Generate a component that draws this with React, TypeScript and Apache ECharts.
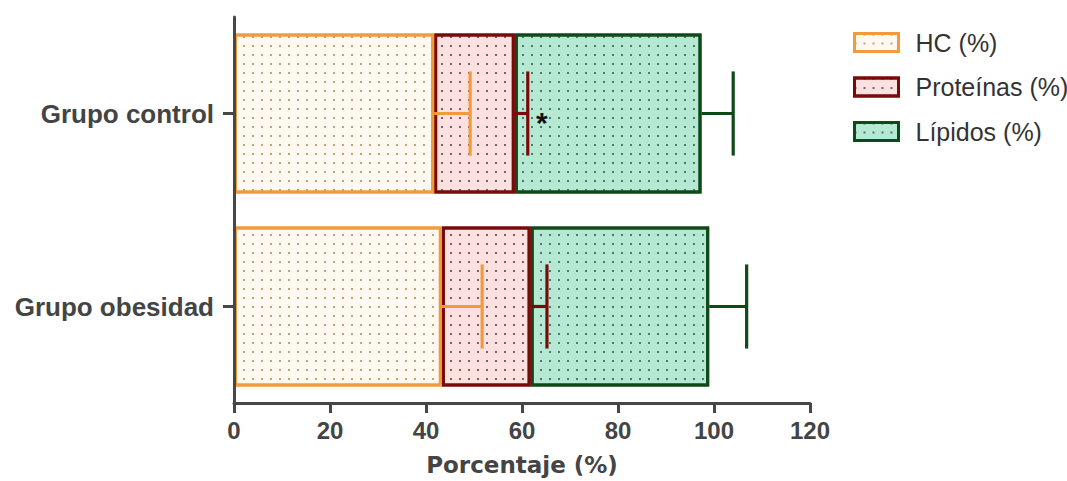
import React, { useEffect, useRef } from "react";
import * as echarts from "echarts";

const categories = ["Grupo control", "Grupo obesidad"];
const hcValues = [41.7, 43.3];
const proteinValues = [16.8, 18.5];
const lipidValues = [38.9, 37.2];
const hcErrors = [7.5, 8.4];
const proteinErrors = [2.7, 3.4];
const lipidErrors = [6.6, 7.8];
const proteinMarks = ["*", ""];
const xMin = 0;
const xMax = 120;
const xInterval = 20;

const seriesNames = ["HC (%)", "Proteínas (%)", "Lípidos (%)"];
const borderColors = ["#F29B3C", "#7A0A0A", "#0E4A18"];
const fillColors = ["#FFF9F1", "#FDE1E1", "#B6E9D4"];
const dotColors = ["rgba(175,125,70,0.7)", "rgba(90,50,50,0.75)", "rgba(50,80,65,0.75)"];

const AXIS = "#474747";

export default function App() {
  const ref = useRef<HTMLDivElement>(null);
  useEffect(() => {
    document.body.style.margin = "0";
    if (!ref.current) return;
    const chart = echarts.init(ref.current, undefined, { renderer: "svg" });

    const valueSets = [hcValues, proteinValues, lipidValues];
    const errorSets = [hcErrors, proteinErrors, lipidErrors];
    const ends = valueSets.map((_, si) =>
      categories.map((_, ci) => {
        let s = 0;
        for (let k = 0; k <= si; k++) s += valueSets[k][ci];
        return s;
      })
    );

    const barSeries = valueSets.map((vals, si) => ({
      name: seriesNames[si],
      type: "bar",
      stack: "total",
      barWidth: 160,
      z: 5 - si,
      data: vals,
      itemStyle: {
        color: fillColors[si],
        borderColor: borderColors[si],
        borderWidth: 3,
        decal: {
          symbol: "rect",
          symbolSize: 1,
          dashArrayX: [1.6, 6.2],
          dashArrayY: [1.6, 6.2],
          color: dotColors[si],
        },
      },
    }));

    const errSeries = valueSets.map((_, si) => ({
      type: "custom",
      z: 8,
      silent: true,
      data: categories.map((_, ci) => [ends[si][ci], errorSets[si][ci], ci]),
      renderItem: (params: any, api: any) => {
        const end = api.value(0);
        const err = api.value(1);
        const cat = api.value(2);
        const p0 = api.coord([end, cat]);
        const p1 = api.coord([end + err, cat]);
        const half = api.size([0, 1])[1] * 0.218;
        const style = { stroke: borderColors[si], lineWidth: 3.2, fill: "none" };
        const children: any[] = [
          { type: "line", shape: { x1: p0[0], y1: p0[1], x2: p1[0], y2: p1[1] }, style },
          { type: "line", shape: { x1: p1[0], y1: p1[1] - half, x2: p1[0], y2: p1[1] + half }, style },
        ];
        if (si === 1 && proteinMarks[params.dataIndex]) {
          children.push({
            type: "text",
            x: p1[0] + 14,
            y: p1[1] + 9,
            style: {
              text: proteinMarks[params.dataIndex],
              fill: "#111",
              font: "bold 30px 'Liberation Sans', Arial, sans-serif",
              align: "center",
              verticalAlign: "middle",
            },
          });
        }
        return { type: "group", children };
      },
    }));

    chart.setOption({
      animation: false,
      backgroundColor: "#ffffff",
      grid: { left: 234, right: 257, top: 17, bottom: 78 },
      legend: {
        orient: "vertical",
        left: 848,
        top: 25,
        itemWidth: 44,
        itemHeight: 18,
        itemGap: 19.5,
        icon: "rect",
        data: seriesNames,
        itemStyle: { borderWidth: 3 },
        formatter: (name: string) => `{gap|}${name}`,
        textStyle: {
          fontFamily: "'Liberation Sans', Arial, sans-serif",
          fontSize: 25,
          lineHeight: 24,
          color: "#333",
          rich: { gap: { width: 12 } },
        },
      },
      xAxis: {
        type: "value",
        min: xMin,
        max: xMax,
        interval: xInterval,
        z: 10,
        name: "Porcentaje (%)",
        nameLocation: "middle",
        nameGap: 50,
        nameTextStyle: {
          fontFamily: "'DejaVu Sans', sans-serif",
          fontWeight: "bold",
          fontSize: 23,
          color: "#444",
        },
        axisLine: { show: true, lineStyle: { color: AXIS, width: 3 } },
        axisTick: { show: true, length: 10, lineStyle: { color: AXIS, width: 3 } },
        axisLabel: {
          margin: 15,
          fontFamily: "'Liberation Sans', Arial, sans-serif",
          fontWeight: "bold",
          fontSize: 24,
          color: "#444",
        },
        splitLine: { show: false },
      },
      yAxis: {
        type: "category",
        data: categories,
        inverse: true,
        z: 10,
        axisLine: { show: true, lineStyle: { color: AXIS, width: 3 } },
        axisTick: { show: true, alignWithLabel: true, length: 11, lineStyle: { color: AXIS, width: 3 } },
        axisLabel: {
          margin: 20,
          fontFamily: "'Liberation Sans', Arial, sans-serif",
          fontWeight: "bold",
          fontSize: 26,
          color: "#444",
        },
        splitLine: { show: false },
      },
      series: [...barSeries, ...errSeries],
    });
    return () => chart.dispose();
  }, []);
  return <div ref={ref} style={{ width: 1067, height: 481 }} />;
}
